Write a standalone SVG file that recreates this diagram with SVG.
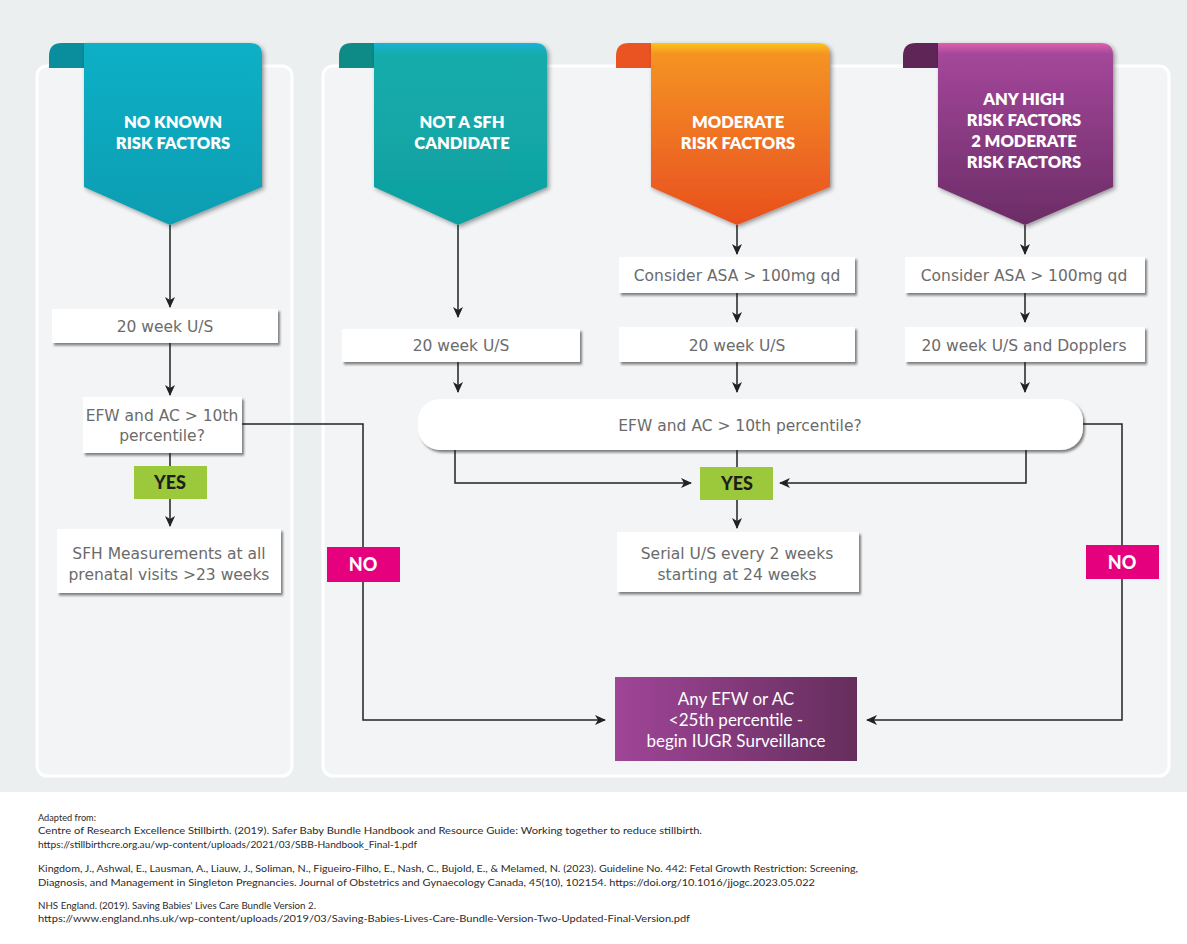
<svg xmlns="http://www.w3.org/2000/svg" width="1187" height="944" viewBox="0 0 1187 944">
<defs>
<style>
.box{fill:#ffffff;filter:url(#sh);}
.bt{font-family:"DejaVu Sans",Lato,"Liberation Sans",sans-serif;font-size:15.5px;fill:#6b6b6b;text-anchor:middle;}
.ban{font-family:Lato,"Open Sans","Liberation Sans",sans-serif;font-size:16.5px;font-weight:800;fill:#ffffff;text-anchor:middle;}
.yes{fill:#9cc93b;}
.no{fill:#e5007e;}
.yt{font-family:Lato,"Liberation Sans",sans-serif;font-size:18px;font-weight:900;fill:#1e1e1e;text-anchor:middle;}
.nt{font-family:Lato,"Liberation Sans",sans-serif;font-size:18px;font-weight:900;fill:#ffffff;text-anchor:middle;}
.c{fill:none;stroke:#222;stroke-width:1.5;}
.ref{font-family:Lato,"Liberation Sans",sans-serif;font-size:9.2px;fill:#2b2b2b;}
.pt{font-family:Lato,"Open Sans","Liberation Sans",sans-serif;font-size:17px;fill:#ffffff;text-anchor:middle;}
.panel{fill:#f3f4f6;stroke:#ffffff;stroke-width:3;}
</style>
<filter id="sh" x="-10%" y="-20%" width="125%" height="150%">
<feDropShadow dx="2" dy="2.5" stdDeviation="1.2" flood-color="#222" flood-opacity="0.55"/>
</filter>
<filter id="bsh" x="-10%" y="-10%" width="125%" height="125%">
<feDropShadow dx="2" dy="2" stdDeviation="2" flood-color="#222" flood-opacity="0.45"/>
</filter>
<marker id="ah" markerWidth="11" markerHeight="11" refX="10" refY="5.5" orient="auto" markerUnits="userSpaceOnUse">
<path d="M0,0.5 L11,5.5 L0,10.5 L3,5.5 Z" fill="#222"/>
</marker>
<linearGradient id="g1" x1="0" y1="0" x2="0" y2="1">
<stop offset="0" stop-color="#0bb0c6"/><stop offset="1" stop-color="#0c9db2"/>
</linearGradient>
<linearGradient id="g2" x1="0" y1="0" x2="0" y2="1">
<stop offset="0" stop-color="#1ab2d8"/><stop offset="0.06" stop-color="#14acac"/><stop offset="1" stop-color="#10a0a0"/>
</linearGradient>
<linearGradient id="g3" x1="0" y1="0" x2="0" y2="1">
<stop offset="0" stop-color="#fbc51c"/><stop offset="0.06" stop-color="#f59323"/><stop offset="1" stop-color="#e84f1f"/>
</linearGradient>
<linearGradient id="g4" x1="0" y1="0" x2="0" y2="1">
<stop offset="0" stop-color="#e060ad"/><stop offset="0.06" stop-color="#a4479a"/><stop offset="1" stop-color="#6b2c66"/>
</linearGradient>
<linearGradient id="gp" x1="0" y1="0" x2="1" y2="0">
<stop offset="0" stop-color="#a04598"/><stop offset="1" stop-color="#652e5c"/>
</linearGradient>
</defs>

<rect x="0" y="0" width="1187" height="944" fill="#ffffff"/>
<rect x="0" y="0" width="1187" height="792" fill="#eceff0"/>
<g id="panels">
<rect class="panel" x="37" y="66" width="255" height="710" rx="10"/>
<rect class="panel" x="323" y="66" width="846" height="710" rx="10"/>
</g>

<g id="banner-no-known">
<path d="M49,68 L49,56 Q49,43 62,43 L84,43 L84,68 Z" fill="#0a8d9d"/>
<path d="M84,43 L250,43 Q262,43 262,55 L262,187 L170,225 L84,187 Z" fill="url(#g1)" filter="url(#bsh)"/>
<text class="ban" x="173" y="128">NO KNOWN</text>
<text class="ban" x="173" y="149">RISK FACTORS</text>
</g>
<g id="banner-not-sfh">
<path d="M339,68 L339,56 Q339,43 352,43 L374,43 L374,68 Z" fill="#0e8b86"/>
<path d="M374,43 L535,43 Q547,43 547,55 L547,187 L458,225 L374,187 Z" fill="url(#g2)" filter="url(#bsh)"/>
<text class="ban" x="462" y="128">NOT A SFH</text>
<text class="ban" x="462" y="149">CANDIDATE</text>
</g>
<g id="banner-moderate">
<path d="M616,68 L616,56 Q616,43 629,43 L651,43 L651,68 Z" fill="#ea5422"/>
<path d="M651,43 L818,43 Q830,43 830,55 L830,187 L737,225 L651,187 Z" fill="url(#g3)" filter="url(#bsh)"/>
<text class="ban" x="738" y="128">MODERATE</text>
<text class="ban" x="738" y="149">RISK FACTORS</text>
</g>
<g id="banner-high">
<path d="M903,68 L903,56 Q903,43 916,43 L938,43 L938,68 Z" fill="#5e2556"/>
<path d="M938,43 L1101,43 Q1113,43 1113,55 L1113,187 L1025,225 L938,187 Z" fill="url(#g4)" filter="url(#bsh)"/>
<text class="ban" x="1024" y="105">ANY HIGH</text>
<text class="ban" x="1024" y="126">RISK FACTORS</text>
<text class="ban" x="1024" y="147">2 MODERATE</text>
<text class="ban" x="1024" y="168">RISK FACTORS</text>
</g>

<g id="connectors">
<path class="c" d="M170,225 V307" marker-end="url(#ah)"/>
<path class="c" d="M170,343 V395" marker-end="url(#ah)"/>
<path class="c" d="M170,453 V467"/>
<path class="c" d="M170,499 V526" marker-end="url(#ah)"/>
<path class="c" d="M242,424 H363 V720 H605" marker-end="url(#ah)"/>
<path class="c" d="M458,225 V317" marker-end="url(#ah)"/>
<path class="c" d="M458,362 V392" marker-end="url(#ah)"/>
<path class="c" d="M737,225 V254" marker-end="url(#ah)"/>
<path class="c" d="M737,293 V322" marker-end="url(#ah)"/>
<path class="c" d="M737,362 V392" marker-end="url(#ah)"/>
<path class="c" d="M1025,225 V254" marker-end="url(#ah)"/>
<path class="c" d="M1025,293 V322" marker-end="url(#ah)"/>
<path class="c" d="M1025,362 V392" marker-end="url(#ah)"/>
<path class="c" d="M455,450 V483 H691" marker-end="url(#ah)"/>
<path class="c" d="M737,450 V467"/>
<path class="c" d="M1026,450 V483 H780" marker-end="url(#ah)"/>
<path class="c" d="M737,500 V528" marker-end="url(#ah)"/>
<path class="c" d="M1083,424 H1122 V720 H867" marker-end="url(#ah)"/>
</g>

<g id="n-20wk-left">
<rect class="box" x="52" y="309" width="226" height="34"/>
<text class="bt" x="165" y="332">20 week U/S</text>
</g>
<g id="n-efw-left">
<rect class="box" x="83" y="397" width="159" height="56"/>
<text class="bt" x="162" y="421">EFW and AC &gt; 10th</text>
<text class="bt" x="162" y="441">percentile?</text>
</g>
<g id="n-yes-left">
<rect class="yes" x="134" y="466" width="73" height="33"/>
<text class="yt" x="170" y="489">YES</text>
</g>
<g id="n-sfh">
<rect class="box" x="57" y="529" width="224" height="64"/>
<text class="bt" x="169" y="559">SFH Measurements at all</text>
<text class="bt" x="169" y="580">prenatal visits &gt;23 weeks</text>
</g>
<g id="n-no-left">
<rect class="no" x="327" y="547" width="73" height="35"/>
<text class="nt" x="363" y="571">NO</text>
</g>
<g id="n-20wk-mid">
<rect class="box" x="342" y="329" width="238" height="33"/>
<text class="bt" x="461" y="351">20 week U/S</text>
</g>
<g id="n-asa-mod">
<rect class="box" x="619" y="257" width="236" height="36"/>
<text class="bt" x="737" y="281">Consider ASA &gt; 100mg qd</text>
</g>
<g id="n-20wk-mod">
<rect class="box" x="619" y="327" width="236" height="35"/>
<text class="bt" x="737" y="351">20 week U/S</text>
</g>
<g id="n-asa-high">
<rect class="box" x="905" y="257" width="240" height="36"/>
<text class="bt" x="1024" y="281">Consider ASA &gt; 100mg qd</text>
</g>
<g id="n-20wk-high">
<rect class="box" x="905" y="327" width="240" height="35"/>
<text class="bt" x="1024" y="351">20 week U/S and Dopplers</text>
</g>
<g id="n-efw-main">
<rect class="box" x="418" y="399" width="665" height="51" rx="22"/>
<text class="bt" x="740" y="431">EFW and AC &gt; 10th percentile?</text>
</g>
<g id="n-yes-main">
<rect class="yes" x="700" y="467" width="73" height="33"/>
<text class="yt" x="737" y="490">YES</text>
</g>
<g id="n-serial">
<rect class="box" x="617" y="532" width="242" height="60"/>
<text class="bt" x="737" y="559">Serial U/S every 2 weeks</text>
<text class="bt" x="737" y="580">starting at 24 weeks</text>
</g>
<g id="n-no-right">
<rect class="no" x="1086" y="545" width="73" height="34"/>
<text class="nt" x="1122" y="569">NO</text>
</g>
<g id="n-iugr">
<rect x="615" y="677" width="242" height="84" fill="url(#gp)"/>
<text class="pt" x="736" y="705">Any EFW or AC</text>
<text class="pt" x="736" y="726">&lt;25th percentile -</text>
<text class="pt" x="736" y="747">begin IUGR Surveillance</text>
</g>

<g id="references">
<text class="ref" x="38" y="821">Adapted from:</text>
<text class="ref" x="38" y="834" textLength="664" lengthAdjust="spacingAndGlyphs">Centre of Research Excellence Stillbirth. (2019). Safer Baby Bundle Handbook and Resource Guide: Working together to reduce stillbirth.</text>
<text class="ref" x="38" y="848" textLength="379" lengthAdjust="spacingAndGlyphs">https://stillbirthcre.org.au/wp-content/uploads/2021/03/SBB-Handbook_Final-1.pdf</text>
<text class="ref" x="38" y="872" textLength="820" lengthAdjust="spacingAndGlyphs">Kingdom, J., Ashwal, E., Lausman, A., Liauw, J., Soliman, N., Figueiro-Filho, E., Nash, C., Bujold, E., &amp; Melamed, N. (2023). Guideline No. 442: Fetal Growth Restriction: Screening,</text>
<text class="ref" x="38" y="886" textLength="777" lengthAdjust="spacingAndGlyphs">Diagnosis, and Management in Singleton Pregnancies. Journal of Obstetrics and Gynaecology Canada, 45(10), 102154. https://doi.org/10.1016/jjogc.2023.05.022</text>
<text class="ref" x="38" y="909" textLength="278" lengthAdjust="spacingAndGlyphs">NHS England. (2019). Saving Babies' Lives Care Bundle Version 2.</text>
<text class="ref" x="38" y="922" textLength="652" lengthAdjust="spacingAndGlyphs">https://www.england.nhs.uk/wp-content/uploads/2019/03/Saving-Babies-Lives-Care-Bundle-Version-Two-Updated-Final-Version.pdf</text>
</g>
</svg>
